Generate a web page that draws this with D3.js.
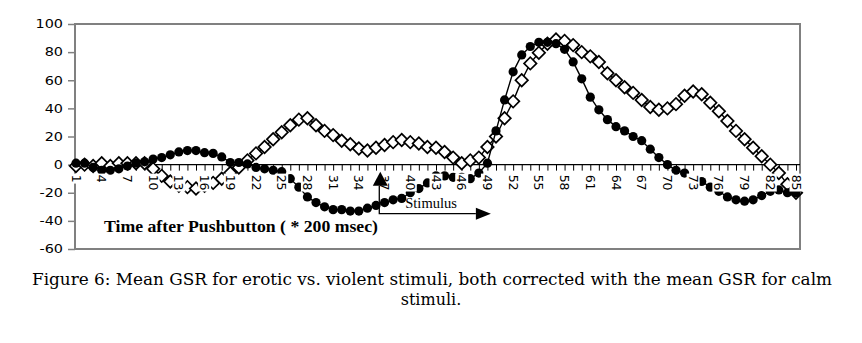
<!DOCTYPE html>
<html><head><meta charset="utf-8">
<script src="https://cdn.jsdelivr.net/npm/d3@7/dist/d3.min.js"></script>
<style>body{margin:0;background:#fff}</style>
</head><body>
<svg id="c" width="862" height="343"></svg>
<script>
const categories = [1,2,3,4,5,6,7,8,9,10,11,12,13,14,15,16,17,18,19,20,21,22,23,24,25,26,27,28,29,30,
  31,32,33,34,35,36,37,38,39,40,41,42,43,44,45,46,47,48,49,50,51,52,53,54,55,56,57,58,59,60,
  61,62,63,64,65,66,67,68,69,70,71,72,73,74,75,76,77,78,79,80,81,82,83,84,85];
// filled circles
const seriesCircles = [1,1,-2,-4,-4,-3,-1,1,2,4,5,7,9,10,10,8.5,8,5.5,1.5,1.5,
  0.5,-2,-3,-4,-5,-10,-16,-23,-27,-30,-32,-32,-33,-33,-31,-29,-27,-25,-24,-20,
  -17,-13,-8,-8,-9,-9,-10,-6,1,24,46,66,78,84,87,87,86,82,73,61,
  48,39,32,27,24,20,17,11,5,0,-4,-6,-10,-12,-16,-19,-23,-25,-26,-25,
  -22,-19,-18,-20,-20];
// open diamonds
const seriesDiamonds = [-1,0,-1,1,-1,1,1,1,1,-3,-8,-12,-15,-16,-17,-15,-13,-10,-6,-2,
  3,8,12.5,18,23,28,32,33,28,24,21,17,14.5,11.5,10,12,14,16,17.5,16,
  15,12.5,12,9,5,1,3,5,12.5,20,33,45,60,72,79.5,86,89,88,85,80,
  77,73,65,60,55,51,46,41,39,40,43,49,52,50,44,38,31,24,18,12,
  6,0,-6,-14,-20];
const yTicks = [-60,-40,-20,0,20,40,60,80,100];
const xLabelStep = 3;
const xTitle = "Time after Pushbutton ( * 200 msec)";
const stimulusLabel = "Stimulus";
const stimulusStart = 36.5, stimulusEnd = 49.4;
const captionLines = ["Figure 6: Mean GSR for erotic vs. violent stimuli, both corrected with the mean GSR for calm", "stimuli."];

const svg = d3.select('#c');
const plot = {left:75, right:800, top:24, bottom:249};
const x = d3.scaleLinear().domain([1,85]).range([76,796]);
const y = d3.scaleLinear().domain([-60,100]).range([plot.bottom, plot.top]);

svg.append('rect').attr('x',plot.left).attr('y',plot.top)
  .attr('width',plot.right-plot.left).attr('height',plot.bottom-plot.top)
  .attr('fill','#fff').attr('stroke','#808080').attr('stroke-width',2);

// Y axis
const ya = svg.append('g').attr('transform',`translate(${plot.left},0)`)
  .call(d3.axisLeft(y).tickValues(yTicks).tickSize(7).tickPadding(5).tickFormat(d=>String(d)));
ya.select('.domain').remove();
ya.selectAll('line').attr('stroke','#808080').attr('stroke-width',1.5);
ya.selectAll('text').attr('font-family','DejaVu Sans').attr('font-size',12).attr('fill','#000')
  .attr('x',-12/1.2).attr('transform','scale(1.2,1)');

// zero axis with category ticks
const y0 = y(0);
const xa = svg.append('g').attr('transform',`translate(0,${y0})`)
  .call(d3.axisBottom(x).tickValues(categories).tickSize(6).tickSizeOuter(0).tickFormat(''));
xa.select('.domain').remove();
xa.selectAll('line').attr('stroke','#000').attr('stroke-width',1);
svg.append('line').attr('x1',plot.left).attr('x2',plot.right).attr('y1',y0).attr('y2',y0)
  .attr('stroke','#000').attr('stroke-width',1.2);

const line = d3.line().x((d,i)=>x(categories[i])).y(d=>y(d));

// diamonds series
svg.append('path').datum(seriesDiamonds).attr('d',line).attr('fill','none').attr('stroke','#000').attr('stroke-width',1.4);
const diamond = d3.symbol(d3.symbolSquare, 78)();
svg.append('g').selectAll('path').data(seriesDiamonds).join('path')
  .attr('d',diamond)
  .attr('transform',(d,i)=>`translate(${x(categories[i])},${y(d)}) rotate(45)`)
  .attr('fill','#fff').attr('stroke','#000').attr('stroke-width',1.7);

// circles series
svg.append('path').datum(seriesCircles).attr('d',line).attr('fill','none').attr('stroke','#000').attr('stroke-width',1.4);
svg.append('g').selectAll('circle').data(seriesCircles).join('circle')
  .attr('cx',(d,i)=>x(categories[i])).attr('cy',d=>y(d)).attr('r',4.6).attr('fill','#000');

// category labels (with white background, drawn over data)
const labelCats = categories.filter(c => (c-1) % xLabelStep === 0);
const lg = svg.append('g').selectAll('g').data(labelCats).join('g')
  .attr('transform',c=>`translate(${x(c)},${y0+10}) rotate(90)`);
lg.append('rect').attr('class','bg').attr('fill','#fff');
lg.append('text').text(c=>c).attr('x',0).attr('dy','0.36em')
  .attr('font-family','DejaVu Sans').attr('font-size',12.5).attr('fill','#000');
lg.each(function(){
  const g = d3.select(this);
  const len = g.select('text').node().getComputedTextLength();
  g.select('rect').attr('x',-1).attr('y',-6.5).attr('width',len+2).attr('height',13);
});

// stimulus annotation
const sx = x(stimulusStart), ex = x(stimulusEnd);
const triTop = y0 + 7, triBot = y0 + 21, arrowY = y0 + 49;
svg.append('path').attr('d',`M${sx},${triTop}L${sx+7.5},${triBot}L${sx-7.5},${triBot}Z`).attr('fill','#000');
svg.append('path').attr('d',`M${sx-1},${triBot}V${arrowY}H${ex-15}`).attr('fill','none').attr('stroke','#000').attr('stroke-width',1.3);
svg.append('path').attr('d',`M${ex},${arrowY}L${ex-15},${arrowY-6}L${ex-15},${arrowY+6}Z`).attr('fill','#000');
svg.append('text').text(stimulusLabel).attr('x',sx+25).attr('y',arrowY-6)
  .attr('font-family','Liberation Serif').attr('font-size',14.5).attr('fill','#000');

// axis title
svg.append('text').text(xTitle).attr('x',104).attr('y',232)
  .attr('font-family','Liberation Serif').attr('font-weight','bold').attr('font-size',16)
  .attr('textLength',274).attr('lengthAdjust','spacingAndGlyphs').attr('fill','#000');

// caption
svg.append('text').text(captionLines[0]).attr('x',432).attr('y',285).attr('text-anchor','middle')
  .attr('font-family','DejaVu Serif').attr('font-size',16).attr('textLength',800).attr('lengthAdjust','spacingAndGlyphs').attr('fill','#000');
svg.append('text').text(captionLines[1]).attr('x',431).attr('y',305).attr('text-anchor','middle')
  .attr('font-family','DejaVu Serif').attr('font-size',16).attr('fill','#000');
</script>
</body></html>
